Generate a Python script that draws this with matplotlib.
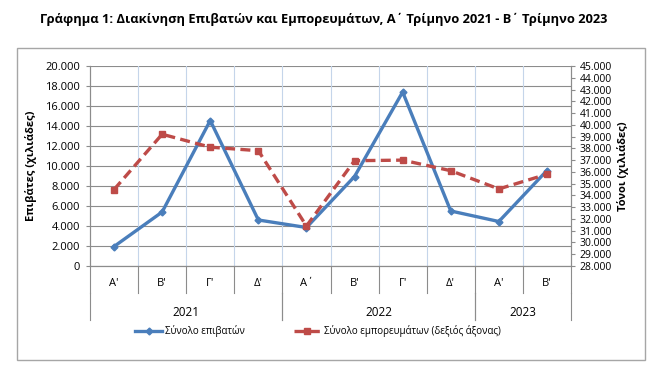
import matplotlib.pyplot as plt
from matplotlib.patches import FancyBboxPatch
from matplotlib.lines import Line2D
from matplotlib.ticker import FuncFormatter

plt.rcParams['font.family'] = ['Open Sans', 'DejaVu Sans']

# Data (thousands)
quarters = ["Α'", "Β'", "Γ'", "Δ'", "Α΄", "Β'", "Γ'", "Δ'", "Α'", "Β'"]
years = ["2021", "2022", "2023"]
year_spans = [(0, 4), (4, 8), (8, 10)]
passengers = [1950, 5400, 14550, 4600, 3850, 8950, 17400, 5500, 4450, 9550]
cargo = [34500, 39200, 38100, 37800, 31400, 36950, 37000, 36100, 34550, 35800]

blue = "#4A7EBB"
red = "#BE4B48"
grid_gray = "#8C8C8C"
vgrid = "#C5D5EA"

fig = plt.figure(figsize=(6.61, 3.68), dpi=100)

# Outer chart border
box = FancyBboxPatch((17 / 661, 1 - 360 / 368), (645 - 17) / 661, (360 - 48) / 368,
                     boxstyle="square,pad=0", transform=fig.transFigure,
                     fill=False, edgecolor="#A6A6A6", linewidth=1.0)
fig.patches.append(box)

fig.text(0.49, 1 - 19 / 368,
         "Γράφημα 1: Διακίνηση Επιβατών και Εμπορευμάτων, Α΄ Τρίμηνο 2021 - Β΄ Τρίμηνο 2023",
         ha="center", va="center", fontsize=9.3, fontweight="bold")

ax = fig.add_axes([90 / 661, 1 - 266 / 368, 481 / 661, 200 / 368])
x = list(range(len(quarters)))

# Grid
for v in range(0, 20001, 2000):
    ax.axhline(v, color=grid_gray, linewidth=0.8, zorder=0)
for b in range(1, len(quarters)):
    ax.axvline(b - 0.5, color=vgrid, linewidth=0.8, zorder=0)

ax.plot(x, passengers, color=blue, linewidth=2.4, marker="D", markersize=3.5,
        zorder=3)
ax.set_xlim(-0.5, len(quarters) - 0.5)
ax.set_ylim(0, 20000)
ax.set_yticks(range(0, 20001, 2000))
ax.yaxis.set_major_formatter(FuncFormatter(lambda v, p: f"{int(v):,}".replace(",", ".")))
ax.tick_params(axis="y", labelsize=8, length=3, color=grid_gray, pad=4)
ax.set_xticks([])
ax.set_ylabel("Επιβάτες (χιλιάδες)", fontsize=8, fontweight="bold", labelpad=6)

ax.spines["top"].set_visible(False)
for s in ["left", "right", "bottom"]:
    ax.spines[s].set_color(grid_gray)

ax2 = ax.twinx()
ax2.plot(x, cargo, color=red, linewidth=2.4, linestyle=(0, (3, 1.6)), marker="s",
         markersize=5, zorder=3)
ax2.set_ylim(28000, 45000)
ax2.set_yticks(range(28000, 45001, 1000))
ax2.yaxis.set_major_formatter(FuncFormatter(lambda v, p: f"{int(v):,}".replace(",", ".")))
ax2.tick_params(axis="y", labelsize=7.5, length=3, color=grid_gray, pad=3)
ax2.set_ylabel("Τόνοι (χιλιάδες)", fontsize=8, fontweight="bold", rotation=90,
               labelpad=4)
ax2.spines["top"].set_visible(False)
for s in ["left", "right", "bottom"]:
    ax2.spines[s].set_color(grid_gray)

# Multi-level category axis
trans = ax.get_xaxis_transform()
for i, q in enumerate(quarters):
    ax.text(i, -0.09, q, transform=trans, ha="center", va="center", fontsize=8)
for b in range(len(quarters) + 1):
    ax.add_line(Line2D([b - 0.5, b - 0.5], [0, -0.135], transform=trans,
                       color=grid_gray, linewidth=0.8, clip_on=False))
for (a, e), yr in zip(year_spans, years):
    ax.text((a + e - 1) / 2, -0.23, yr, transform=trans, ha="center",
            va="center", fontsize=8.5)
    for b in (a, e):
        ax.add_line(Line2D([b - 0.5, b - 0.5], [-0.135, -0.27], transform=trans,
                           color=grid_gray, linewidth=0.8, clip_on=False))

handles = [Line2D([], [], color=blue, linewidth=2.4, marker="D", markersize=3.5),
           Line2D([], [], color=red, linewidth=2.4, linestyle=(0, (3, 1.6)),
                  marker="s", markersize=5)]
fig.legend(handles, ["Σύνολο επιβατών", "Σύνολο εμπορευμάτων (δεξιός άξονας)"],
           loc="center", bbox_to_anchor=(318 / 661, 1 - 331 / 368), ncol=2,
           frameon=False, fontsize=7, handlelength=2.8, handletextpad=0.3,
           columnspacing=5)

fig.savefig("out.png", dpi=100)
